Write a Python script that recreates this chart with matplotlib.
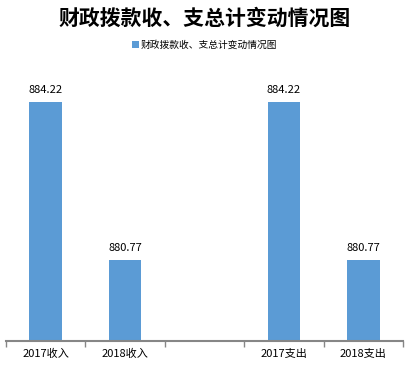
import matplotlib.pyplot as plt

plt.rcParams['font.family'] = ['Noto Sans CJK SC', 'DejaVu Sans']

# data
categories = ['2017收入', '2018收入', '', '2017支出', '2018支出']
values = [884.22, 880.77, None, 884.22, 880.77]
title = '财政拨款收、支总计变动情况图'

fig = plt.figure(figsize=(4.10, 3.66), dpi=100)
ax = fig.add_axes([6 / 410, 1 - 341 / 366, 397 / 410, 275 / 366])

base = 879
xs = list(range(len(categories)))
for x, v in zip(xs, values):
    if v is None:
        continue
    ax.bar(x, v - base, bottom=base, width=0.41, color='#5B9BD5',
           label=title if x == 0 else None)
    ax.text(x, v + 0.15, '%.2f' % v, ha='center', va='bottom', fontsize=8)

ax.set_xlim(-0.5, len(categories) - 0.5)
ax.set_ylim(base, 885)
ax.set_xticks(xs)
ax.set_xticklabels(categories, fontsize=8)
ax.set_xticks([i - 0.5 for i in range(len(categories) + 1)], minor=True)
ax.tick_params(axis='x', which='major', length=0, pad=6)
ax.tick_params(axis='x', which='minor', length=4, direction='out', color='#868686', width=1)
ax.set_yticks([])
for s in ['left', 'right', 'top']:
    ax.spines[s].set_visible(False)
ax.spines['bottom'].set_color('#868686')
ax.spines['bottom'].set_linewidth(1.5)

fig.text(0.5, 1 - 18 / 366, title, ha='center', va='center', fontsize=15, fontweight='bold')
fig.legend(loc='center', bbox_to_anchor=(0.5, 1 - 45 / 366), frameon=False,
           fontsize=7, handlelength=0.7, handleheight=0.7, handletextpad=0.2)

fig.savefig('out.png', dpi=100)
